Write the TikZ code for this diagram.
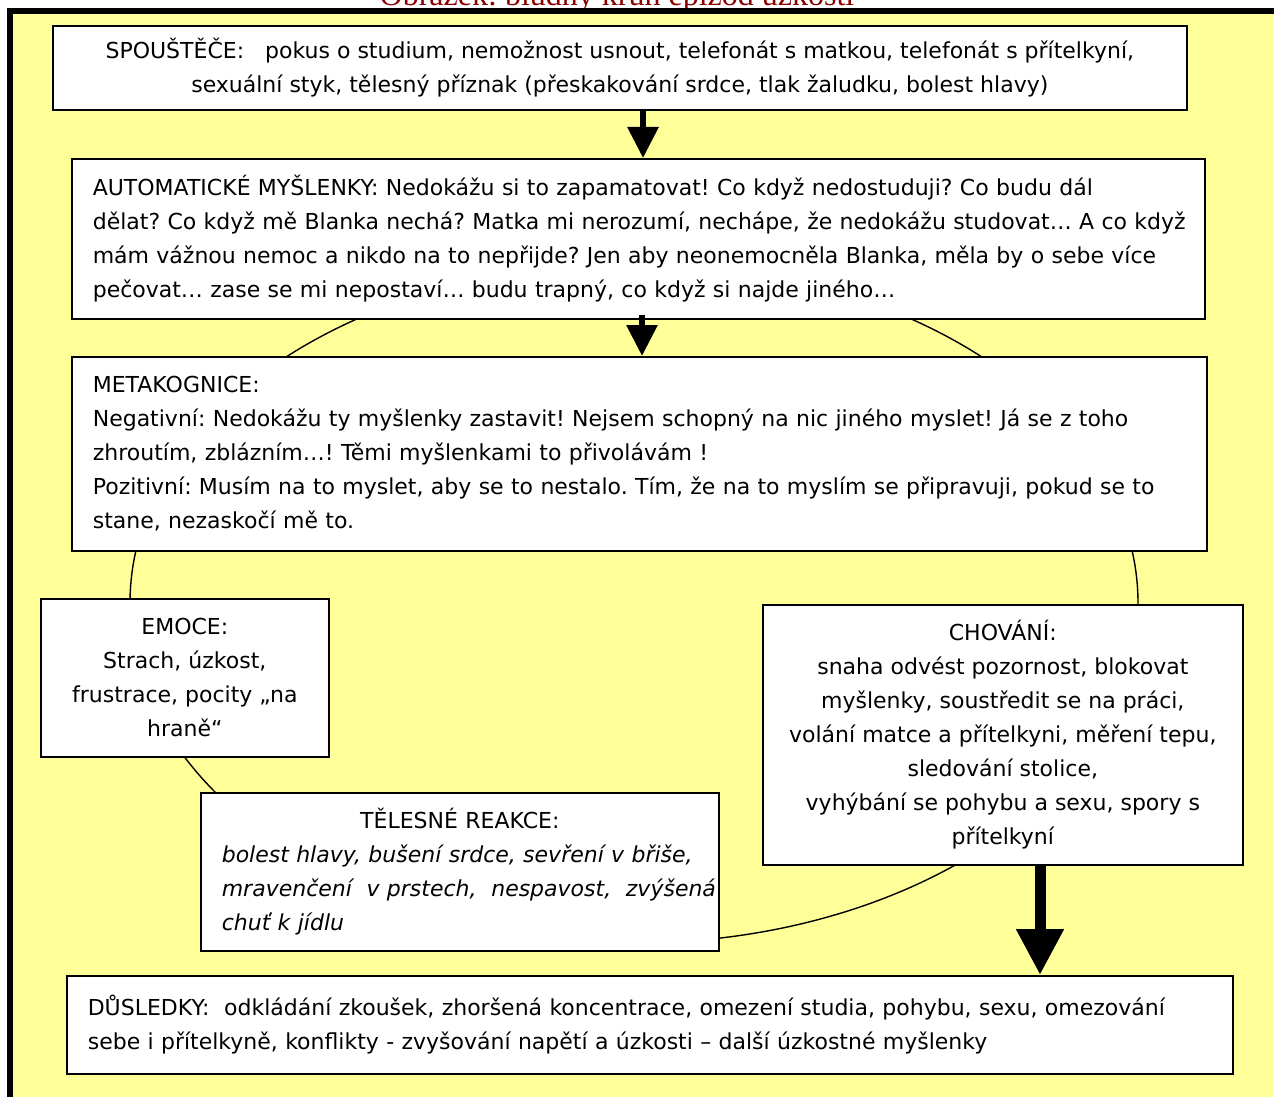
\documentclass[tikz,border=0pt]{standalone}
\usepackage{fontspec}
\setmainfont{DejaVu Sans}
\newfontfamily\titlefont{Liberation Serif}
\usetikzlibrary{arrows.meta,shadows}
\definecolor{bgyellow}{RGB}{255,255,153}
\definecolor{titlered}{RGB}{140,0,0}
\newcommand\lin[1]{\mbox{#1}}
\begin{document}
\frenchspacing
\begin{tikzpicture}[x=1pt,y=-1pt,
  box/.style={draw=black, line width=1.6pt, fill=white, inner xsep=21pt, inner ysep=0pt,
    anchor=north west, font=\fontsize{22}{34}\selectfont,
    drop shadow={shadow xshift=1.6pt, shadow yshift=-1.6pt, fill=black!40}},
  lbox/.style={box, align=left},
  cbox/.style={box, align=center},
  arr/.style={line width=6pt, -{Triangle[width=30pt,length=31pt]}},
  bigarr/.style={line width=11pt, -{Triangle[width=45pt,length=46pt]}},
  loop/.style={draw=black, line width=1.4pt}
]
\clip (0,0) rectangle (1274,1097);
\useasboundingbox (0,0) rectangle (1274,1097);
\fill[white] (0,0) rectangle (1274,1097);
% title (cut off by the page top, as in the source)
\node[anchor=base, text=titlered, font=\titlefont\fontsize{32}{34}\selectfont, inner sep=0pt] (title) at (617,6) {Obrázek: bludný kruh epizod úzkosti};
% frame
\fill[bgyellow] (10,11) rectangle (1274,1097);
\draw[line width=6pt, line join=miter] (10,1097) -- (10,11) -- (1274,11);
% the vicious circle
\draw[loop] (634,603) ellipse [x radius=504pt, y radius=340pt];
% boxes
\node[cbox, minimum width=1134pt, minimum height=84pt] (b1) at (52,25)
  {SPOUŠTĚČE:\ \ \ pokus o studium, nemožnost usnout, telefonát s matkou, telefonát s přítelkyní,\\
   sexuální styk, tělesný příznak (přeskakování srdce, tlak žaludku, bolest hlavy)};
\node[lbox, minimum width=1133pt, minimum height=160pt, text width=1091pt] (b2) at (71,158)
  {\lin{AUTOMATICKÉ MYŠLENKY: Nedokážu si to zapamatovat! Co když nedostuduji? Co budu dál}\\
   \lin{dělat? Co když mě Blanka nechá? Matka mi nerozumí, nechápe, že nedokážu studovat… A co když}\\
   \lin{mám vážnou nemoc a nikdo na to nepřijde? Jen aby neonemocněla Blanka, měla by o sebe více}\\
   \lin{pečovat… zase se mi nepostaví… budu trapný, co když si najde jiného…}};
\node[lbox, minimum width=1135pt, minimum height=194pt, text width=1093pt] (b3) at (71,356)
  {\lin{METAKOGNICE:}\\
   \lin{Negativní: Nedokážu ty myšlenky zastavit! Nejsem schopný na nic jiného myslet! Já se z toho}\\
   \lin{zhroutím, zblázním…! Těmi myšlenkami to přivolávám !}\\
   \lin{Pozitivní: Musím na to myslet, aby se to nestalo. Tím, že na to myslím se připravuji, pokud se to}\\
   \lin{stane, nezaskočí mě to.}};
\node[cbox, minimum width=288pt, minimum height=158pt] (b4) at (40,598)
  {EMOCE:\\ Strach, úzkost,\\ frustrace, pocity „na\\ hraně“};
\node[cbox, minimum width=480pt, minimum height=260pt] (b5) at (762,604)
  {CHOVÁNÍ:\\ snaha odvést pozornost, blokovat\\ myšlenky, soustředit se na práci,\\
   volání matce a přítelkyni, měření tepu,\\ sledování stolice,\\
   vyhýbání se pohybu a sexu, spory s\\ přítelkyní};
\node[lbox, minimum width=518pt, minimum height=158pt, text width=476pt] (b6) at (200,792)
  {\makebox[\linewidth]{TĚLESNÉ REAKCE:}\\
   \itshape\lin{bolest hlavy, bušení srdce, sevření v břiše,}\\
   \makebox[\linewidth][s]{\itshape mravenčení\ \ v prstech,\ \ nespavost,\ \ zvýšená}\\
   \itshape\lin{chuť k jídlu}};
\node[lbox, minimum width=1166pt, minimum height=98pt, text width=1124pt] (b7) at (66,975)
  {\lin{DŮSLEDKY:\ \ odkládání zkoušek, zhoršená koncentrace, omezení studia, pohybu, sexu, omezování}\\
   \lin{sebe i přítelkyně, konflikty - zvyšování napětí a úzkosti – další úzkostné myšlenky}};
% arrows
\coordinate (ax1) at (643,0);
\coordinate (ax2) at (642,0);
\coordinate (ax3) at (1040,0);
\draw[arr] (b1.south -| ax1) -- (b2.north -| ax1);
\draw[arr] ([yshift=5pt]b2.south -| ax2) -- (b3.north -| ax2);
\draw[bigarr] (b5.south -| ax3) -- (b7.north -| ax3);
\end{tikzpicture}
\end{document}
